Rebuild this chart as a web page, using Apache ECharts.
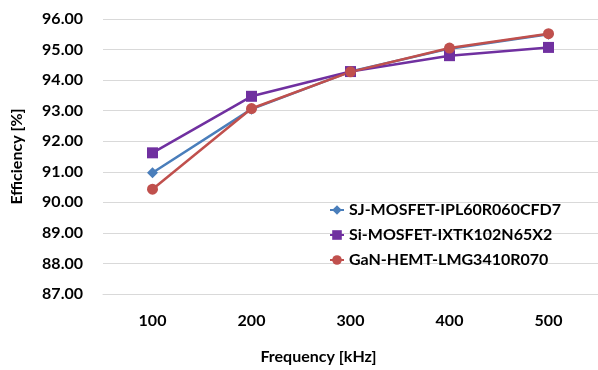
<!DOCTYPE html>
<html>
<head>
<meta charset="utf-8">
<script src="https://cdn.jsdelivr.net/npm/echarts@6/dist/echarts.min.js"></script>
<style>
  html, body { margin: 0; padding: 0; background: #fff; }
  #chart-container { width: 598px; height: 370px; }
</style>
</head>
<body>
<div id="chart-container"></div>
<script>
var frequencies = ['100', '200', '300', '400', '500'];
var sjMosfet = [90.97, 93.05, 94.28, 95.03, 95.50];
var siMosfet = [91.62, 93.47, 94.28, 94.80, 95.07];
var ganHemt = [90.43, 93.07, 94.27, 95.05, 95.52];

var seriesNames = ['SJ-MOSFET-IPL60R060CFD7', 'Si-MOSFET-IXTK102N65X2', 'GaN-HEMT-LMG3410R070'];
var fontFam = 'Lato, "Liberation Sans", sans-serif';

var dom = document.getElementById('chart-container');
var myChart = echarts.init(dom, null, { renderer: 'canvas' });

var option = {
    animation: false,
    grid: { left: 103, right: -5, top: 19, bottom: 73 },
    legend: {
        orient: 'vertical',
        left: 324,
        top: 197,
        itemGap: 9,
        itemWidth: 14,
        itemHeight: 12,
        textStyle: { fontFamily: fontFam, fontWeight: 'bold', fontSize: 16, color: '#000' },
        data: seriesNames
    },
    xAxis: {
        type: 'category',
        data: frequencies,
        name: 'Frequency [kHz]',
        nameLocation: 'middle',
        nameGap: 55,
        nameTextStyle: { fontFamily: fontFam, fontWeight: 'bold', fontSize: 16, color: '#000', padding: [0, 64, 0, 0] },
        axisLine: { lineStyle: { color: '#d9d9d9' } },
        axisTick: { show: false },
        axisLabel: { margin: 19, fontFamily: fontFam, fontWeight: 'bold', fontSize: 16, color: '#000' }
    },
    yAxis: {
        type: 'value',
        min: 87,
        max: 96,
        interval: 1,
        name: 'Efficiency [%]',
        nameLocation: 'middle',
        nameGap: 78,
        nameTextStyle: { fontFamily: fontFam, fontWeight: 'bold', fontSize: 16, color: '#000' },
        axisLine: { show: false },
        axisTick: { show: false },
        splitLine: { lineStyle: { color: '#d9d9d9' } },
        axisLabel: {
            margin: 20,
            fontFamily: fontFam, fontWeight: 'bold', fontSize: 16, color: '#000',
            formatter: function (v) { return v.toFixed(2); }
        }
    },
    series: [
        {
            name: seriesNames[0], type: 'line', data: sjMosfet,
            symbol: 'diamond', symbolSize: 11,
            lineStyle: { width: 2.5, color: '#4a7ebb' },
            itemStyle: { color: '#4a7ebb' }
        },
        {
            name: seriesNames[1], type: 'line', data: siMosfet,
            symbol: 'rect', symbolSize: 11,
            lineStyle: { width: 2.5, color: '#7030a0' },
            itemStyle: { color: '#7030a0' }
        },
        {
            name: seriesNames[2], type: 'line', data: ganHemt,
            symbol: 'circle', symbolSize: 11,
            lineStyle: { width: 2.5, color: '#c0504d' },
            itemStyle: { color: '#c0504d' }
        }
    ]
};

myChart.setOption(option);
window.addEventListener('resize', myChart.resize);
</script>
</body>
</html>
